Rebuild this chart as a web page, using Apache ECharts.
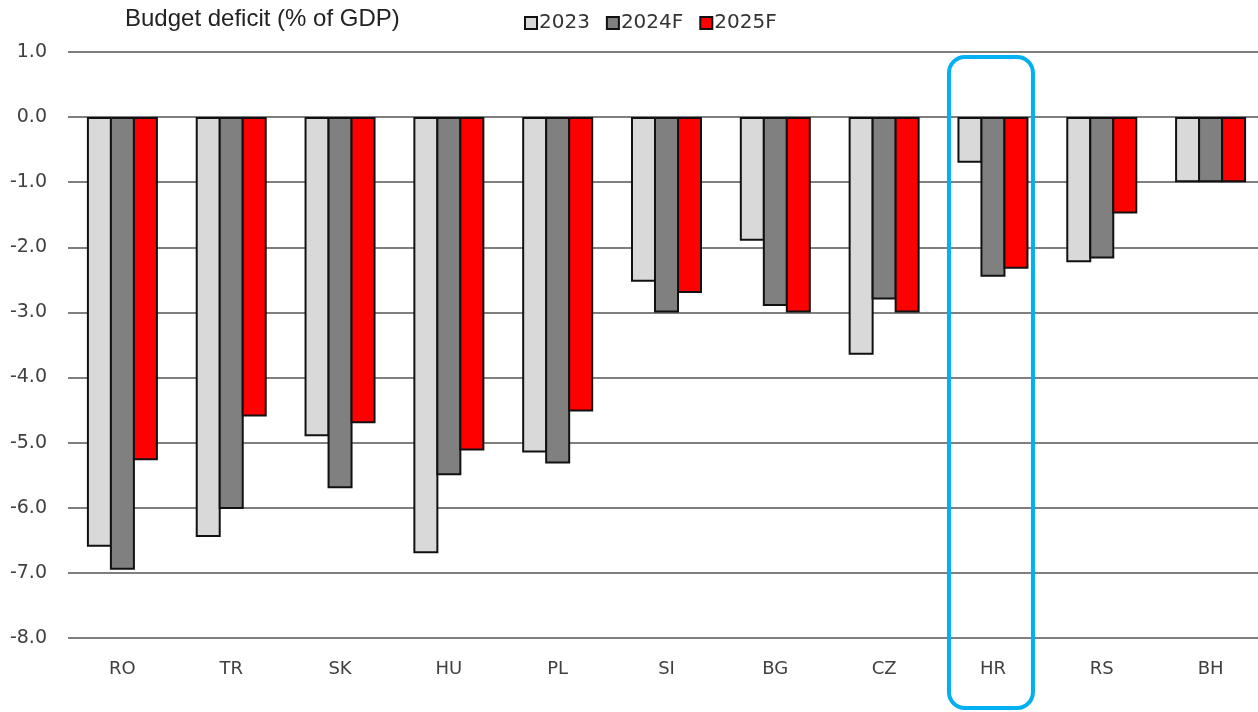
<!DOCTYPE html>
<html lang="en">
<head>
    <meta charset="UTF-8">
    <title>Budget deficit</title>
    <style>
        html, body { margin: 0; padding: 0; background: #fff; }
        #main { width: 1258px; height: 712px; }
    </style>
</head>
<body>
<div id="main"></div>
<script src="https://cdn.jsdelivr.net/npm/echarts@6/dist/echarts.min.js"></script>
<script>
    // 数据
    var countries = ['RO', 'TR', 'SK', 'HU', 'PL', 'SI', 'BG', 'CZ', 'HR', 'RS', 'BH'];
    var seriesNames = ['2023', '2024F', '2025F'];
    var values2023 = [-6.6, -6.45, -4.9, -6.7, -5.15, -2.53, -1.9, -3.65, -0.7, -2.23, -1.0];
    var values2024 = [-6.95, -6.02, -5.7, -5.5, -5.32, -3.0, -2.9, -2.8, -2.45, -2.17, -1.0];
    var values2025 = [-5.27, -4.6, -4.7, -5.12, -4.52, -2.7, -3.0, -3.0, -2.33, -1.48, -1.0];
    var highlighted = 'HR';

    var colors = ['#d9d9d9', '#808080', '#ff0000'];
    var allValues = [values2023, values2024, values2025];

    var myChart = echarts.init(document.getElementById('main'));

    var option = {
        animation: false,
        title: {
            text: 'Budget deficit (% of GDP)',
            left: 120,
            top: 2,
            textStyle: {
                fontFamily: 'Liberation Sans',
                fontSize: 24,
                fontWeight: 'normal',
                color: '#222'
            }
        },
        legend: {
            data: seriesNames,
            icon: 'rect',
            left: 519,
            top: 8,
            itemWidth: 12,
            itemHeight: 12,
            itemGap: 16,
            textStyle: {
                fontFamily: 'DejaVu Sans',
                fontSize: 20,
                color: '#333',
                padding: [0, 0, 0, -3]
            }
        },
        grid: {
            left: 68,
            width: 1197,
            top: 52,
            bottom: 74,
            outerBoundsMode: 'none'
        },
        xAxis: {
            type: 'category',
            data: countries,
            position: 'bottom',
            axisLine: { show: false, onZero: false },
            axisTick: { show: false },
            axisLabel: {
                margin: 22,
                fontFamily: 'DejaVu Sans',
                fontSize: 18,
                color: '#404040'
            }
        },
        yAxis: {
            type: 'value',
            min: -8,
            max: 1,
            interval: 1,
            axisLine: { show: false },
            axisTick: { show: false },
            axisLabel: {
                margin: 21,
                fontFamily: 'DejaVu Sans',
                fontSize: 19,
                color: '#404040',
                formatter: function (v) { return v.toFixed(1); }
            },
            splitLine: {
                lineStyle: { color: '#555', width: 1.5 }
            }
        },
        series: seriesNames.map(function (name, i) {
            return {
                name: name,
                type: 'bar',
                data: allValues[i],
                barWidth: 25,
                barGap: '-8%',
                itemStyle: {
                    color: colors[i],
                    borderColor: '#111',
                    borderWidth: 2
                }
            };
        })
    };

    myChart.setOption(option);

    // 高亮框（HR）
    var cx = myChart.convertToPixel({ xAxisIndex: 0 }, highlighted);
    myChart.setOption({
        graphic: [{
            type: 'rect',
            shape: { x: cx - 44, y: 57, width: 84, height: 651, r: 16 },
            style: { fill: 'none', stroke: '#00b0f0', lineWidth: 4 },
            z: 100
        }]
    });
</script>
</body>
</html>
